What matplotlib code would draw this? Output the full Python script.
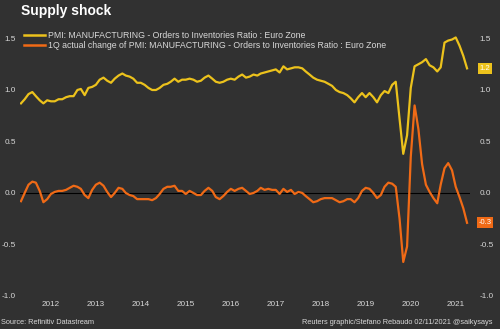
import matplotlib
matplotlib.use('Agg')
import matplotlib.pyplot as plt
import matplotlib.transforms as mtransforms
from matplotlib.lines import Line2D
import pandas as pd

# monthly, Nov 2011 - Oct 2021
START = '2011-11-01'
ratio = [0.87, 0.91, 0.96, 0.98, 0.94, 0.90, 0.87, 0.90, 0.89, 0.89,
         0.91, 0.91, 0.93, 0.94, 0.94, 1.00, 1.01, 0.95, 1.02, 1.03,
         1.05, 1.10, 1.12, 1.09, 1.07, 1.11, 1.14, 1.16, 1.14, 1.13,
         1.11, 1.07, 1.07, 1.05, 1.02, 1.00, 1.00, 1.02, 1.05, 1.06,
         1.08, 1.11, 1.08, 1.10, 1.10, 1.11, 1.10, 1.08,
         1.09, 1.12, 1.14, 1.11, 1.08, 1.07, 1.08, 1.10, 1.11, 1.10, 1.13, 1.15,
         1.12, 1.13, 1.15, 1.14, 1.16, 1.17, 1.18, 1.19, 1.20, 1.17,
         1.23, 1.20, 1.21, 1.22, 1.22, 1.21, 1.18, 1.15, 1.12, 1.10,
         1.09, 1.08, 1.06, 1.04, 1.00, 0.98, 0.97, 0.95,
         0.92, 0.88, 0.93, 0.97, 0.93, 0.97, 0.93, 0.88, 0.95, 0.99, 0.97, 1.05, 1.08, 0.72,
         0.38, 0.56, 1.02, 1.23, 1.25, 1.27, 1.30, 1.24, 1.22, 1.18,
         1.22, 1.46, 1.48, 1.49, 1.51, 1.43, 1.33, 1.21]

change_1q = [-0.08, 0.00, 0.08, 0.11, 0.10, 0.02, -0.09, -0.06, -0.01, 0.01,
             0.02, 0.02, 0.03, 0.05, 0.07, 0.06, 0.04, -0.02, -0.05, 0.03,
             0.08, 0.10, 0.07, 0.01, -0.04, 0.00, 0.05, 0.04, 0.00, -0.02,
             -0.03, -0.06, -0.06, -0.06, -0.06, -0.07, -0.05, -0.01, 0.04, 0.06,
             0.06, 0.07, 0.02, 0.02, -0.01, 0.02, 0.00, -0.02,
             -0.02, 0.02, 0.05, 0.02, -0.04, -0.06, -0.03, 0.01, 0.04, 0.02, 0.04, 0.05,
             0.02, -0.01, 0.00, 0.02, 0.05, 0.03, 0.04, 0.03, 0.03, -0.01,
             0.04, 0.01, 0.03, -0.01, 0.01, 0.00, -0.03, -0.06, -0.09, -0.08,
             -0.06, -0.05, -0.05, -0.05, -0.07, -0.09, -0.08, -0.06, -0.06, -0.09,
             -0.05, 0.02, 0.05, 0.04, 0.00, -0.05, -0.02, 0.06, 0.10, 0.09, 0.06, -0.25,
             -0.67, -0.52, 0.35, 0.85, 0.62, 0.28, 0.08, 0.01, -0.05, -0.10,
             0.08, 0.24, 0.29, 0.22, 0.06, -0.04, -0.15, -0.29]

years = list(range(2012, 2022))
yticks = [-1.0, -0.5, 0.0, 0.5, 1.0, 1.5]

LABEL_RATIO = 'PMI: MANUFACTURING - Orders to Inventories Ratio : Euro Zone'
LABEL_CHANGE = '1Q actual change of PMI: MANUFACTURING - Orders to Inventories Ratio : Euro Zone'

BG = '#313131'
TXT = '#d8d8d8'
YELLOW = '#ecc21c'
ORANGE = '#f06a16'

plt.rcParams['font.family'] = ['Liberation Sans', 'DejaVu Sans']

dates = pd.date_range(START, periods=len(ratio), freq='MS')

fig = plt.figure(figsize=(5, 3.29), dpi=100)
fig.patch.set_facecolor(BG)
W, H = 500, 329
ax = fig.add_axes([20 / W, 1 - 298 / H, 450 / W, (298 - 28.2) / H])
ax.set_facecolor(BG)

ax.axhline(0, color='black', lw=0.8, zorder=1)
ax.plot(dates, ratio, color=YELLOW, lw=1.6, zorder=3)
ax.plot(dates, change_1q, color=ORANGE, lw=1.6, zorder=2)

ax.set_ylim(-1.02, 1.6)
ax.set_xlim(dates[0] - pd.Timedelta(days=8), dates[-1] + pd.Timedelta(days=24))
ax.set_yticks(yticks)
ax.set_yticklabels([f'{v:.1f}' for v in yticks])
ax.set_xticks([pd.Timestamp(f'{y}-07-01') for y in years])
ax.set_xticklabels([str(y) for y in years])
ax.tick_params(axis='y', length=0, pad=3, labelsize=5.9, labelcolor=TXT)
ax.tick_params(axis='x', length=0, pad=2, labelsize=5.9, labelcolor=TXT)
for s in ax.spines.values():
    s.set_visible(False)

ax2 = ax.twinx()
ax2.set_ylim(ax.get_ylim())
ax2.set_yticks(yticks)
ax2.set_yticklabels([f'{v:.1f}' for v in yticks])
ax2.tick_params(axis='y', length=0, pad=7, labelsize=5.9, labelcolor=TXT)
for s in ax2.spines.values():
    s.set_visible(False)

# last-value boxes on the right
tr = mtransforms.blended_transform_factory(fig.transFigure, ax.transData)
for val, col in [(ratio[-1], YELLOW), (change_1q[-1], ORANGE)]:
    ax.text(485 / W, val, f'{val:.1f}', transform=tr, ha='center', va='center',
            fontsize=5.5, color='white',
            bbox=dict(boxstyle='square,pad=0.25', fc=col, ec='none'))

fig.text(21 / W, 1 - 11 / H, 'Supply shock', fontsize=10, fontweight='bold',
         color='white', ha='left', va='center')

fig.legend([Line2D([], [], color=YELLOW, lw=1.8), Line2D([], [], color=ORANGE, lw=1.8)],
           [LABEL_RATIO, LABEL_CHANGE], loc='upper left',
           bbox_to_anchor=(20 / W, 1 - 26.8 / H), frameon=False, fontsize=6.3,
           handlelength=2.4, handletextpad=0.3, labelspacing=0.05,
           borderpad=0, labelcolor=TXT)

fig.text(1 / W, 1 - 323 / H, 'Source: Refinitiv Datastream', fontsize=5.3,
         color=TXT, ha='left', va='center')
fig.text(493 / W, 1 - 322 / H, 'Reuters graphic/Stefano Rebaudo 02/11/2021 @saikysays',
         fontsize=5.3, color=TXT, ha='right', va='center')

fig.savefig('out.png', dpi=100, facecolor=BG)
